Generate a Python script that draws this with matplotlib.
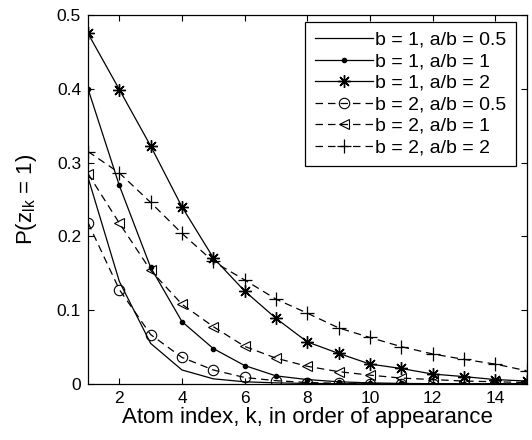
import matplotlib
matplotlib.use("Agg")
import matplotlib.pyplot as plt
import numpy as np

plt.rcParams['font.family'] = ['Liberation Sans', 'DejaVu Sans']

k = np.arange(1, 16)
labels = ["b = 1, a/b = 0.5", "b = 1, a/b = 1", "b = 1, a/b = 2",
          "b = 2, a/b = 0.5", "b = 2, a/b = 1", "b = 2, a/b = 2"]
b1_ab05 = [0.280, 0.139, 0.055, 0.019, 0.007, 0.003, 0.0015, 0.0008, 0.0004, 0.0002, 0.0001, 0.0001, 0.0, 0.0, 0.0]
b1_ab1 = [0.400, 0.269, 0.158, 0.0845, 0.048, 0.025, 0.011, 0.006, 0.003, 0.0015, 0.0008, 0.0004, 0.0002, 0.0001, 0.0001]
b1_ab2 = [0.475, 0.399, 0.3225, 0.240, 0.171, 0.126, 0.089, 0.057, 0.0415, 0.027, 0.021, 0.0135, 0.010, 0.006, 0.004]
b2_ab05 = [0.2186, 0.128, 0.067, 0.036, 0.019, 0.0088, 0.0045, 0.002, 0.001, 0.0005, 0.0003, 0.0002, 0.0001, 0.0001, 0.0]
b2_ab1 = [0.285, 0.218, 0.154, 0.108, 0.0777, 0.051, 0.035, 0.024, 0.0167, 0.012, 0.008, 0.006, 0.004, 0.003, 0.002]
b2_ab2 = [0.315, 0.286, 0.246, 0.204, 0.166, 0.141, 0.115, 0.096, 0.076, 0.063, 0.0506, 0.0407, 0.0334, 0.027, 0.018]

fig = plt.figure(figsize=(5.32, 4.4), dpi=100)
ax = fig.add_axes([0.1654, 0.1273, 0.8243, 0.8387])

dash = (0, (6, 4))
lw = 0.9
asterisk = (8, 2, 0)
ax.plot(k, b1_ab05, color='k', lw=lw, linestyle='-', label=labels[0])
ax.plot(k, b1_ab1, color='k', lw=lw, linestyle='-', marker='.', markersize=6, label=labels[1])
ax.plot(k, b1_ab2, color='k', lw=lw, linestyle='-', marker=asterisk, markersize=9, markeredgewidth=1.0, label=labels[2])
ax.plot(k, b2_ab05, color='k', lw=lw, linestyle=dash, marker='o', markersize=7.5, markerfacecolor='none', markeredgewidth=0.8, label=labels[3])
ax.plot(k, b2_ab1, color='k', lw=lw, linestyle=dash, marker='<', markersize=7.5, markerfacecolor='none', markeredgewidth=0.8, label=labels[4])
ax.plot(k, b2_ab2, color='k', lw=lw, linestyle=dash, marker='+', markersize=10, markeredgewidth=0.9, label=labels[5])

ax.set_xlim(1, 15)
ax.set_ylim(0, 0.5)
ax.set_xticks([2, 4, 6, 8, 10, 12, 14])
ax.set_yticks([0, 0.1, 0.2, 0.3, 0.4, 0.5])
ax.set_yticklabels(["0", "0.1", "0.2", "0.3", "0.4", "0.5"])
ax.tick_params(direction='in', top=True, right=True, labelsize=12.5, length=4, width=0.8, pad=5)
for s in ax.spines.values():
    s.set_linewidth(0.9)

ax.set_xlabel("Atom index, k, in order of appearance", fontsize=16, labelpad=1)
ax.set_ylabel(r"P(z$_{\mathregular{lk}}$ = 1)", fontsize=16, labelpad=13)

leg = ax.legend(loc='upper right', bbox_to_anchor=(0.976, 0.982), fontsize=14,
                frameon=True, fancybox=False, edgecolor='k', framealpha=1,
                handlelength=3.0, handletextpad=0.1, labelspacing=0.2, borderpad=0.5,
                borderaxespad=0)
leg.get_frame().set_linewidth(0.9)

fig.savefig("out.png", dpi=100)
